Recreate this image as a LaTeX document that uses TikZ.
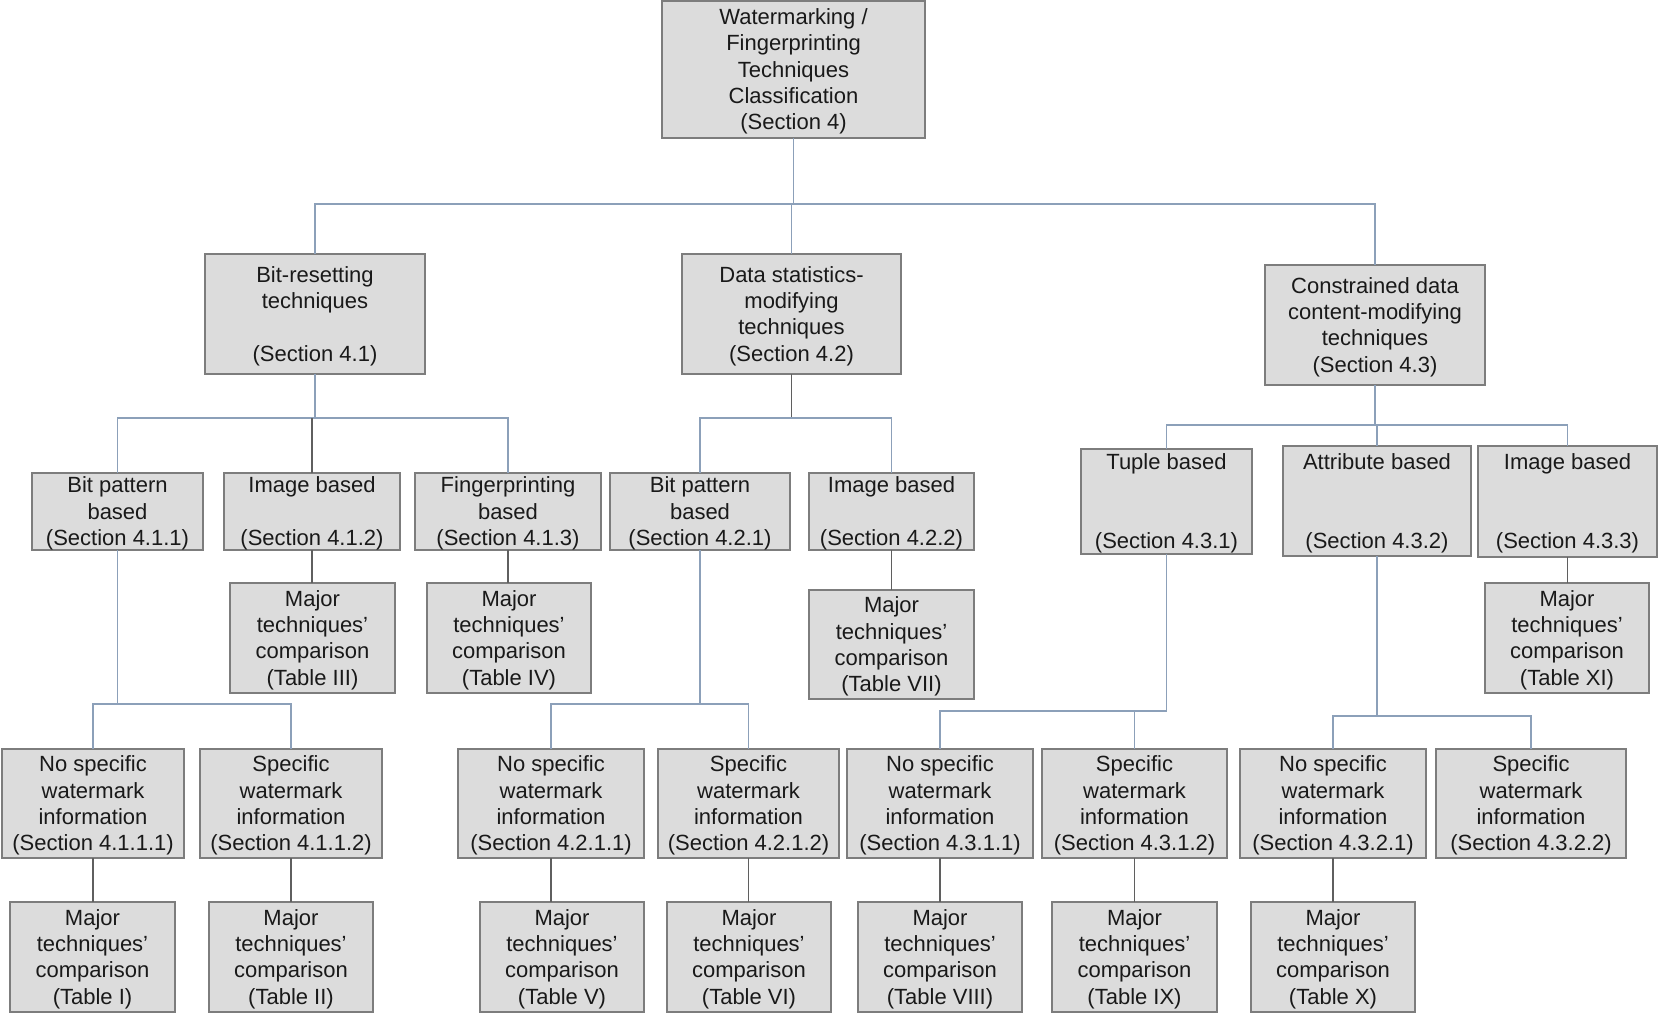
\documentclass[tikz,border=0pt]{standalone}
\usepackage{fontspec}
\setmainfont{Liberation Sans}
\definecolor{boxfill}{RGB}{220,220,220}
\definecolor{boxline}{RGB}{125,125,125}
\definecolor{busline}{RGB}{140,160,185}
\definecolor{oneline}{RGB}{95,95,95}
\definecolor{txt}{RGB}{25,25,25}
\tikzset{
  box/.style={draw=boxline, fill=boxfill, line width=0.75pt, inner sep=0pt, outer sep=0pt},
  boxtext/.style={align=center, text=txt, font=\fontsize{11}{13.2}\selectfont, inner sep=0pt, yshift=-1pt},
  bus/.style={draw=busline, line width=0.65pt},
  single/.style={draw=oneline, line width=0.65pt}
}
\newcommand\bx[6]{%
  \node[box, minimum width={(#4-#2)*0.5pt}, minimum height={(#5-#3)*0.5pt}]
    (#1) at ({(#2+#4)/2},{(#3+#5)/2}) {};
  \node[boxtext] (#1-t) at (#1.center) {#6};}
\newcommand\gap{\mbox{}}
\begin{document}
\begin{tikzpicture}[x=0.5pt,y=-0.5pt]
\useasboundingbox (0,0) rectangle (1660,1013);
% level 1
\bx{root}{662}{1}{925}{138}{Watermarking /\\Fingerprinting\\Techniques\\Classification\\(Section 4)}
% level 2
\bx{bitreset}{205}{254}{425}{374}{Bit-resetting\\techniques\\\gap\\(Section 4.1)}
\bx{datastat}{682}{254}{901}{374}{Data statistics-\\modifying\\techniques\\(Section 4.2)}
\bx{constr}{1265}{265}{1485}{385}{Constrained data\\content-modifying\\techniques\\(Section 4.3)}
% level 3
\bx{bp41}{32}{473}{203}{550}{Bit pattern\\based\\(Section 4.1.1)}
\bx{im41}{224}{473}{400}{550}{Image based\\\gap\\(Section 4.1.2)}
\bx{fp41}{415}{473}{601}{550}{Fingerprinting\\based\\(Section 4.1.3)}
\bx{bp42}{610}{473}{790}{550}{Bit pattern\\based\\(Section 4.2.1)}
\bx{im42}{809}{473}{974}{550}{Image based\\\gap\\(Section 4.2.2)}
\bx{tu43}{1081}{449}{1252}{554}{Tuple based\\\gap\\\gap\\(Section 4.3.1)}
\bx{at43}{1283}{446}{1471}{556}{Attribute based\\\gap\\\gap\\(Section 4.3.2)}
\bx{im43}{1478}{446}{1657}{557}{Image based\\\gap\\\gap\\(Section 4.3.3)}
% tables at level 3
\bx{t3}{230}{583}{395}{693}{Major\\techniques’\\comparison\\(Table III)}
\bx{t4}{427}{583}{591}{693}{Major\\techniques’\\comparison\\(Table IV)}
\bx{t7}{809}{590}{974}{699}{Major\\techniques’\\comparison\\(Table VII)}
\bx{t11}{1485}{583}{1649}{693}{Major\\techniques’\\comparison\\(Table XI)}
% level 4
\bx{s4111}{2}{749}{184}{858}{No specific\\watermark\\information\\(Section 4.1.1.1)}
\bx{s4112}{200}{749}{382}{858}{Specific\\watermark\\information\\(Section 4.1.1.2)}
\bx{s4211}{458}{749}{644}{858}{No specific\\watermark\\information\\(Section 4.2.1.1)}
\bx{s4212}{658}{749}{839}{858}{Specific\\watermark\\information\\(Section 4.2.1.2)}
\bx{s4311}{847}{749}{1033}{858}{No specific\\watermark\\information\\(Section 4.3.1.1)}
\bx{s4312}{1042}{749}{1227}{858}{Specific\\watermark\\information\\(Section 4.3.1.2)}
\bx{s4321}{1240}{749}{1426}{858}{No specific\\watermark\\information\\(Section 4.3.2.1)}
\bx{s4322}{1436}{749}{1626}{858}{Specific\\watermark\\information\\(Section 4.3.2.2)}
% level 5
\bx{t1}{10}{902}{175}{1012}{Major\\techniques’\\comparison\\(Table I)}
\bx{t2}{209}{902}{373}{1012}{Major\\techniques’\\comparison\\(Table II)}
\bx{t5}{480}{902}{644}{1012}{Major\\techniques’\\comparison\\(Table V)}
\bx{t6}{667}{902}{831}{1012}{Major\\techniques’\\comparison\\(Table VI)}
\bx{t8}{858}{902}{1022}{1012}{Major\\techniques’\\comparison\\(Table VIII)}
\bx{t9}{1052}{902}{1217}{1012}{Major\\techniques’\\comparison\\(Table IX)}
\bx{t10}{1251}{902}{1415}{1012}{Major\\techniques’\\comparison\\(Table X)}
% connectors: level 1 -> 2
\draw[bus] (root.south) -- (root.south |- 0,204);
\draw[bus] (bitreset.north) -- (bitreset.north |- 0,204) -- (constr.north |- 0,204) -- (constr.north);
\draw[bus] (datastat.north) -- (datastat.north |- 0,204);
% 4.1 children
\draw[bus] (bitreset.south) -- (bitreset.south |- 0,418);
\draw[bus] (bp41.north) -- (bp41.north |- 0,418) -- (fp41.north |- 0,418) -- (fp41.north);
\draw[single] (im41.north) -- (im41.north |- 0,418);
% 4.2 children
\draw[single] (datastat.south) -- (datastat.south |- 0,418);
\draw[bus] (bp42.north) -- (bp42.north |- 0,418) -- (im42.north |- 0,418) -- (im42.north);
% 4.3 children
\draw[bus] (constr.south) -- (constr.south |- 0,425);
\draw[bus] (tu43.north) -- (tu43.north |- 0,425) -- (im43.north |- 0,425) -- (im43.north);
\draw[bus] (at43.north) -- (at43.north |- 0,425);
% single tables at level 3
\draw[single] (im41.south) -- (im41.south |- t3.north);
\draw[single] (fp41.south) -- (fp41.south |- t4.north);
\draw[single] (im42.south) -- (im42.south |- t7.north);
\draw[single] (im43.south) -- (im43.south |- t11.north);
% level 3 -> 4
\draw[bus] (bp41.south) -- (bp41.south |- 0,704);
\draw[bus] (s4111.north) -- (s4111.north |- 0,704) -- (s4112.north |- 0,704) -- (s4112.north);
\draw[bus] (bp42.south) -- (bp42.south |- 0,704);
\draw[bus] (s4211.north) -- (s4211.north |- 0,704) -- (s4212.north |- 0,704) -- (s4212.north);
\draw[bus] (tu43.south) -- (tu43.south |- 0,711) -- (s4311.north |- 0,711) -- (s4311.north);
\draw[bus] (s4312.north) -- (s4312.north |- 0,711);
\draw[bus] (at43.south) -- (at43.south |- 0,716);
\draw[bus] (s4321.north) -- (s4321.north |- 0,716) -- (s4322.north |- 0,716) -- (s4322.north);
% level 4 -> 5
\draw[single] (s4111.south) -- (s4111.south |- t1.north);
\draw[single] (s4112.south) -- (s4112.south |- t2.north);
\draw[single] (s4211.south) -- (s4211.south |- t5.north);
\draw[single] (s4212.south) -- (s4212.south |- t6.north);
\draw[single] (s4311.south) -- (s4311.south |- t8.north);
\draw[single] (s4312.south) -- (s4312.south |- t9.north);
\draw[single] (s4321.south) -- (s4321.south |- t10.north);
\end{tikzpicture}
\end{document}
